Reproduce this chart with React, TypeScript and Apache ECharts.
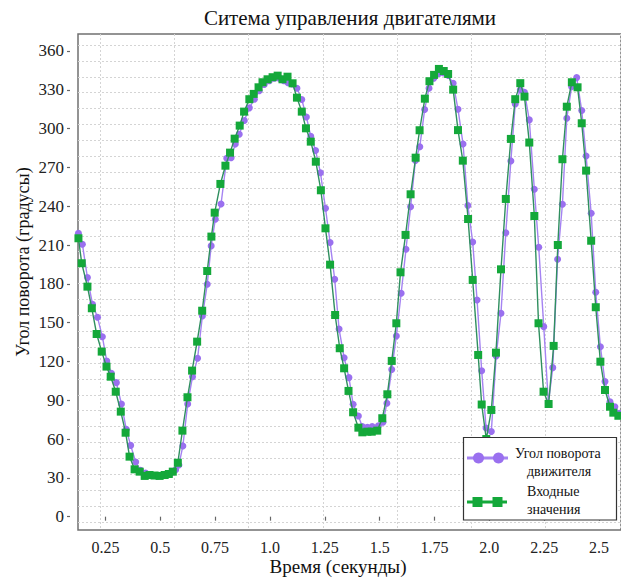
import React, { useEffect, useRef } from "react";
import * as echarts from "echarts";

const titleText = "Ситема управления двигателями";
const xName = "Время (секунды)";
const yName = "Угол поворота (градусы)";
const seriesNames = ["Угол поворота движителя", "Входные значения"];
const legendLines = [["Угол поворота", "движителя"], ["Входные", "значения"]];

const xTickValues = [0.25, 0.5, 0.75, 1.0, 1.25, 1.5, 1.75, 2.0, 2.25, 2.5];
const xTickLabels = ["0.25", "0.5", "0.75", "1.0", "1.25", "1.5", "1.75", "2.0", "2.25", "2.5"];
const yTickValues = [0, 30, 60, 90, 120, 150, 180, 210, 240, 270, 300, 330, 360];

// Угол поворота движителя (purple circles)
const angleT = [0.127,0.145,0.168,0.191,0.214,0.236,0.256,0.277,0.300,0.323,0.345,0.365,0.388,0.410,0.433,0.456,0.479,0.501,0.524,0.547,0.570,0.585,0.603,0.625,0.647,0.670,0.692,0.714,0.732,0.751,0.777,0.803,0.823,0.842,0.860,0.883,0.906,0.929,0.951,0.974,0.997,1.020,1.042,1.063,1.082,1.100,1.123,1.145,1.166,1.186,1.208,1.230,1.253,1.274,1.295,1.315,1.338,1.360,1.379,1.403,1.421,1.444,1.466,1.494,1.515,1.533,1.555,1.576,1.598,1.620,1.641,1.663,1.683,1.705,1.725,1.747,1.770,1.792,1.813,1.835,1.857,1.880,1.902,1.924,1.944,1.965,1.985,2.009,2.031,2.053,2.075,2.098,2.118,2.141,2.160,2.182,2.205,2.225,2.248,2.269,2.289,2.311,2.333,2.353,2.375,2.398,2.421,2.441,2.464,2.485,2.506,2.527,2.550,2.572,2.592];
const angleV = [219.1,210.6,184.8,164.2,154.1,139.1,120.4,110.9,103.6,87.1,67.5,55.1,42.3,35.8,33.8,32.6,31.8,31.8,32.4,33.4,36.3,40,54.7,87.1,108.2,122.4,155.1,179.6,209.3,229.9,241.7,277,277.5,288,295.6,306.2,316,322.7,329.3,334,337,339,339,337,335.5,334.4,331.2,322.5,309,294.1,283,265.9,238.4,212,183.5,145,122.9,107.5,86.9,77.8,69.6,69.1,69.6,70.3,73,87.7,113.7,139.7,172.7,206.7,239.6,275.3,286,314.7,331.2,339,342.6,343,341,335,315,288.1,240.6,212.3,167.5,112.8,68.6,65.9,124.2,157.2,219.5,275,319,330,328.1,306.7,253.1,208.3,146.9,87.7,115.2,199,241.5,308,332.4,339.4,313.9,278.8,234.5,173.5,131.4,104.4,88.9,85,80];

// Входные значения (green squares)
const inputT = [0.127,0.142,0.168,0.188,0.210,0.233,0.255,0.274,0.297,0.320,0.342,0.360,0.383,0.406,0.429,0.451,0.474,0.497,0.520,0.539,0.557,0.580,0.601,0.624,0.645,0.668,0.691,0.714,0.733,0.748,0.774,0.797,0.818,0.839,0.862,0.882,0.906,0.926,0.948,0.966,0.989,1.012,1.035,1.057,1.080,1.103,1.123,1.145,1.164,1.186,1.209,1.232,1.253,1.274,1.297,1.318,1.338,1.358,1.379,1.403,1.421,1.444,1.464,1.489,1.512,1.535,1.555,1.576,1.595,1.618,1.641,1.664,1.682,1.706,1.727,1.748,1.770,1.792,1.812,1.835,1.857,1.879,1.903,1.924,1.949,1.965,1.986,2.009,2.030,2.053,2.075,2.098,2.118,2.141,2.160,2.182,2.205,2.224,2.247,2.270,2.293,2.312,2.333,2.353,2.376,2.402,2.421,2.441,2.464,2.485,2.506,2.527,2.550,2.565,2.588];
const inputV = [215.2,195.9,177.8,161.1,141.2,127.6,116,108.2,96.6,81.2,64.9,46.4,36.6,34.8,31.5,32.2,31.8,31.5,32.2,33.0,34.8,41.7,66.5,92.3,112.9,135.3,159.2,189.9,216.5,235,257.2,271.3,281.4,292.2,302.3,313.1,322.7,326.8,331.9,335.8,338.1,339.7,340.9,338.1,340.1,335,323.9,313.1,300.2,289.9,274.4,252.3,222.9,194.8,155.9,130.2,114.7,97.2,80.7,68.8,65.2,65.7,65.7,66.5,76.1,94.6,120.4,149.5,188.9,217.8,249.2,277.5,298.7,323.1,336.6,341.5,346.1,344.5,342.2,330.1,298.8,275.2,230.1,183,125,86.7,60,82.5,126.8,191.2,245.6,292,322.7,335.1,324.7,289.2,232.4,149.5,96.6,87.1,132,210,276.3,316.9,335.8,331.9,304.1,267.5,213.3,161.9,119.8,97.9,85,80.4,78];

const PURPLE = "#9a70ef";
const PURPLE_LINE = "#a583f2";
const GREEN = "#14a83a";
const GREEN_LINE = "#2f8f5f";
const FONT = "Liberation Serif";

export default function App() {
  const ref = useRef<HTMLDivElement>(null);

  useEffect(() => {
    if (!ref.current) return;
    const chart = echarts.init(ref.current, undefined, { renderer: "svg" });

    const angleData = angleT.map((t, i) => [t, angleV[i]]);
    const inputData = inputT.map((t, i) => [t, inputV[i]]);

    const dotted = { color: "#d4d4d4", width: 1, type: [2, 2] as any };
    const hidden = { show: false };

    const option: any = {
      animation: false,
      backgroundColor: "#ffffff",
      textStyle: { fontFamily: FONT },
      grid: [
        { left: 78, top: 34, width: 544.5, height: 496, show: true, backgroundColor: "transparent", borderColor: "#707070", borderWidth: 1.5 },
        { left: 78, top: 45, width: 544.5, height: 477, show: false },
        { left: 100, top: 34, width: 520, height: 496, show: false },
      ],
      xAxis: [
        {
          gridIndex: 0, type: "value", min: 0.125, max: 2.6,
          axisLine: hidden, splitLine: hidden,
          axisTick: { show: true, customValues: xTickValues, length: 4, lineStyle: { color: "#666", width: 1.2 } },
          axisLabel: {
            customValues: xTickValues, margin: 9, fontSize: 16, color: "#222", fontFamily: FONT,
            formatter: (v: number) => {
              const i = xTickValues.findIndex((t) => Math.abs(t - v) < 1e-6);
              return "{s|" + (i >= 0 ? xTickLabels[i] : "") + "}";
            },
            rich: { s: { fontFamily: FONT, fontSize: 16, color: "#222" } },
          },
        },
        { gridIndex: 1, type: "value", min: 0, max: 1, show: false },
        {
          gridIndex: 2, type: "value", min: 0, max: 7, interval: 1,
          axisLine: hidden, axisTick: hidden, axisLabel: hidden,
          splitLine: { show: true, lineStyle: dotted },
        },
      ],
      yAxis: [
        {
          gridIndex: 0, type: "value", min: -10.3, max: 373.1, offset: 8,
          axisLine: hidden, splitLine: hidden,
          axisTick: { show: true, customValues: yTickValues, length: 3, lineStyle: { color: "#666", width: 1.2 } },
          axisLabel: {
            customValues: yTickValues, margin: 6, fontSize: 17, color: "#222", fontFamily: FONT,
            formatter: (v: number) => "{s|" + Math.round(v) + "}",
            rich: { s: { fontFamily: FONT, fontSize: 17, color: "#222" } },
          },
        },
        {
          gridIndex: 1, type: "value", min: 0, max: 30, interval: 1,
          axisLine: hidden, axisTick: hidden, axisLabel: hidden,
          splitLine: { show: true, lineStyle: dotted },
        },
        { gridIndex: 2, type: "value", min: 0, max: 1, show: false },
      ],
      series: [
        {
          name: seriesNames[0], type: "line", xAxisIndex: 0, yAxisIndex: 0,
          data: angleData, symbol: "circle", symbolSize: 7, showAllSymbol: true,
          itemStyle: { color: PURPLE }, lineStyle: { color: PURPLE_LINE, width: 1.4 },
          z: 3,
        },
        {
          name: seriesNames[1], type: "line", xAxisIndex: 0, yAxisIndex: 0,
          data: inputData, symbol: "rect", symbolSize: 8, showAllSymbol: true,
          itemStyle: { color: GREEN }, lineStyle: { color: GREEN_LINE, width: 1.4 },
          z: 4,
        },
      ],
      graphic: [
        { type: "text", x: 350, y: 18, style: { text: titleText, fontFamily: FONT, fontSize: 21, fill: "#111", align: "center", verticalAlign: "middle" } },
        { type: "text", x: 338, y: 566, style: { text: xName, fontFamily: FONT, fontSize: 19, fill: "#111", align: "center", verticalAlign: "middle" } },
        { type: "text", x: 23, y: 262, rotation: Math.PI / 2, style: { text: yName, fontFamily: FONT, fontSize: 18, fill: "#111", align: "center", verticalAlign: "middle" } },
        {
          type: "group", z: 100,
          children: [
            { type: "rect", shape: { x: 463.5, y: 437.5, width: 153, height: 82.5 }, style: { fill: "#fff", stroke: "#333", lineWidth: 1.2 }, z: 100 },
            { type: "line", shape: { x1: 467, y1: 458, x2: 508, y2: 458 }, style: { stroke: PURPLE_LINE, lineWidth: 3 }, z: 101 },
            { type: "circle", shape: { cx: 478.5, cy: 458, r: 5.5 }, style: { fill: PURPLE }, z: 102 },
            { type: "circle", shape: { cx: 498.5, cy: 458, r: 5.5 }, style: { fill: PURPLE }, z: 102 },
            { type: "line", shape: { x1: 467, y1: 502, x2: 507, y2: 502 }, style: { stroke: GREEN, lineWidth: 3 }, z: 101 },
            { type: "rect", shape: { x: 472.5, y: 497, width: 10, height: 10 }, style: { fill: GREEN }, z: 102 },
            { type: "rect", shape: { x: 492.5, y: 497, width: 10, height: 10 }, style: { fill: GREEN }, z: 102 },
            { type: "text", x: 515, y: 453, style: { text: legendLines[0][0], fontFamily: FONT, fontSize: 14, fill: "#111", verticalAlign: "middle" }, z: 102 },
            { type: "text", x: 527, y: 471, style: { text: legendLines[0][1], fontFamily: FONT, fontSize: 14, fill: "#111", verticalAlign: "middle" }, z: 102 },
            { type: "text", x: 527, y: 491, style: { text: legendLines[1][0], fontFamily: FONT, fontSize: 14, fill: "#111", verticalAlign: "middle" }, z: 102 },
            { type: "text", x: 527, y: 509, style: { text: legendLines[1][1], fontFamily: FONT, fontSize: 14, fill: "#111", verticalAlign: "middle" }, z: 102 },
          ],
        },
      ],
    };

    chart.setOption(option);
    return () => chart.dispose();
  }, []);

  return <div ref={ref} style={{ position: "fixed", left: 0, top: 0, width: 621, height: 578 }} />;
}
